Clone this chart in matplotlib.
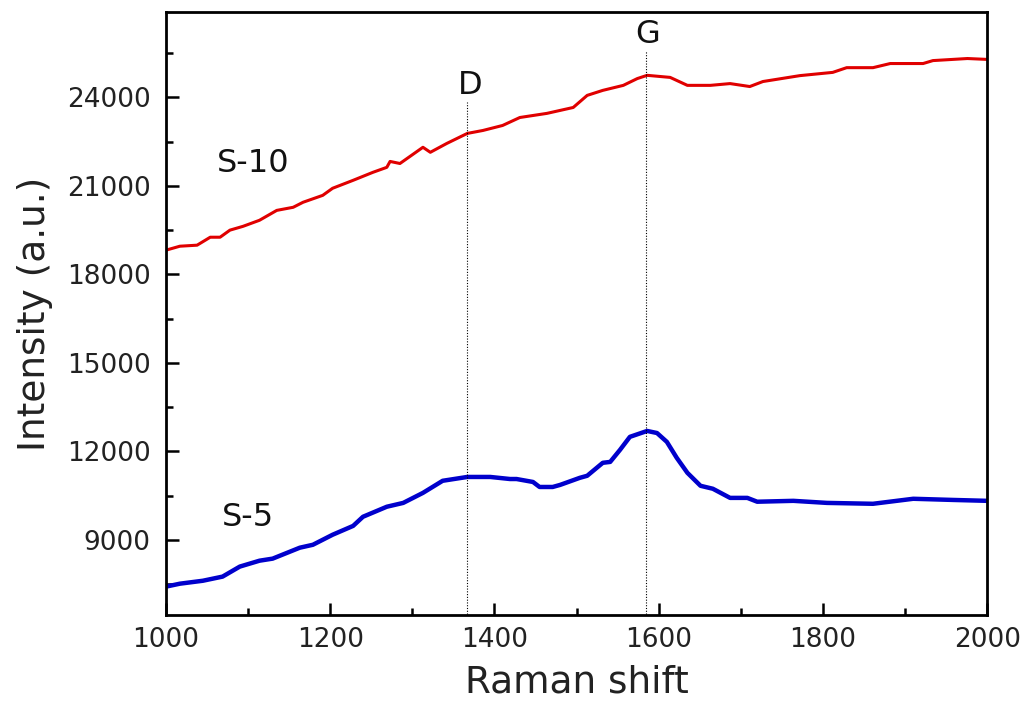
import matplotlib.pyplot as plt
import numpy as np
from matplotlib.ticker import MultipleLocator

plt.rcParams['font.family'] = ['DejaVu Sans']

# S-10 spectrum (red)
s10_shift = [1000, 1017, 1038, 1054, 1066, 1078, 1094, 1114, 1135, 1155, 1167, 1191,
             1203, 1228, 1252, 1269, 1273, 1285, 1313, 1322, 1342, 1367, 1386, 1410,
             1431, 1464, 1480, 1496, 1513, 1532, 1557, 1574, 1586, 1614, 1635, 1663,
             1687, 1711, 1727, 1772, 1812, 1829, 1861, 1882, 1922, 1934, 1976, 2000]
s10_int = [18820, 18955, 18990, 19260, 19260, 19500, 19630, 19835, 20170, 20275, 20445, 20680,
           20920, 21190, 21460, 21630, 21830, 21760, 22310, 22140, 22440, 22780, 22880, 23050,
           23320, 23460, 23560, 23660, 24070, 24240, 24410, 24640, 24750, 24680, 24410, 24410,
           24470, 24370, 24540, 24740, 24850, 25010, 25010, 25150, 25150, 25250, 25320, 25290]

# S-5 spectrum (blue)
s5_shift = [1000, 1017, 1045, 1069, 1090, 1114, 1130, 1163, 1179, 1203, 1228, 1240,
            1269, 1289, 1313, 1337, 1367, 1395, 1419, 1427, 1447, 1455, 1471, 1480,
            1504, 1513, 1532, 1541, 1553, 1565, 1586, 1598, 1610, 1622, 1635, 1651,
            1666, 1687, 1708, 1720, 1764, 1805, 1861, 1910, 1959, 2000]
s5_int = [7410, 7510, 7610, 7750, 8090, 8290, 8360, 8730, 8830, 9170, 9470, 9780,
          10120, 10250, 10590, 11000, 11130, 11130, 11060, 11060, 10960, 10790, 10790, 10860,
          11100, 11170, 11610, 11640, 12050, 12490, 12690, 12620, 12320, 11780, 11270, 10830,
          10730, 10420, 10420, 10290, 10320, 10250, 10220, 10390, 10350, 10320]

# band positions
d_band = 1367
g_band = 1585

fig = plt.figure(figsize=(10.24, 7.02), dpi=100)
ax = fig.add_axes([0.162, 0.124, 0.802, 0.859])

ax.plot(s10_shift, s10_int, color='#e00000', lw=2.2)
ax.plot(s5_shift, s5_int, color='#0000cc', lw=3.2)

ax.plot([d_band, d_band], [6000, 23830], color='black', lw=0.8, ls=(0, (1, 1.5)))
ax.plot([g_band, g_band], [6000, 25590], color='black', lw=0.8, ls=(0, (1, 1.5)))

ax.text(d_band + 3, 23880, 'D', fontsize=23, ha='center', va='bottom', color='#111111')
ax.text(g_band + 2, 25620, 'G', fontsize=23, ha='center', va='bottom', color='#111111')
ax.text(1062, 21765, 'S-10', fontsize=23, ha='left', va='center', color='#111111')
ax.text(1068, 9745, 'S-5', fontsize=23, ha='left', va='center', color='#111111')

ax.set_xlim(1000, 2000)
ax.set_ylim(6450, 26900)
ax.set_xticks([1000, 1200, 1400, 1600, 1800, 2000])
ax.set_yticks([9000, 12000, 15000, 18000, 21000, 24000])
ax.xaxis.set_minor_locator(MultipleLocator(100))
ax.yaxis.set_minor_locator(MultipleLocator(1500))
ax.tick_params(which='both', direction='in', width=1.8, labelsize=19, colors='black',
               labelcolor='#222222', top=False, right=False)
ax.tick_params(axis='x', pad=9)
ax.tick_params(axis='y', pad=11)
ax.tick_params(which='major', length=9)
ax.tick_params(which='minor', length=5)
for sp in ax.spines.values():
    sp.set_linewidth(2)

ax.set_xlabel('Raman shift', fontsize=27, labelpad=8, color='#222222')
ax.set_ylabel('Intensity (a.u.)', fontsize=27, labelpad=10, color='#222222')

fig.savefig('out.png')
